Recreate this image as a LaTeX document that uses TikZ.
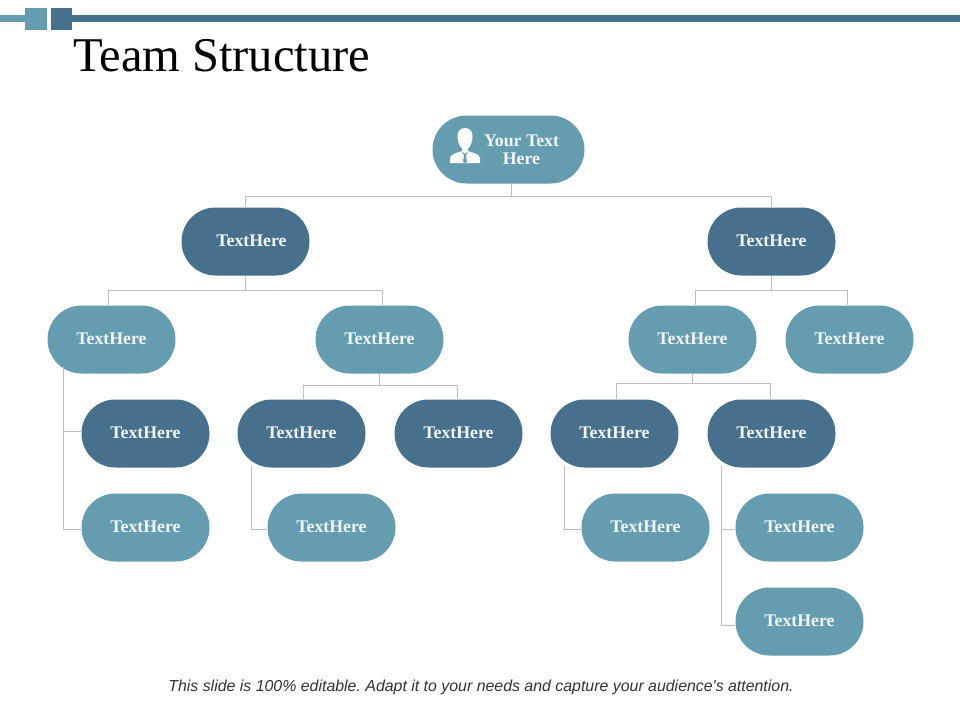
\documentclass[tikz,border=0pt]{standalone}
\usepackage{fontspec}
\setmainfont{Liberation Serif}
\setsansfont{Liberation Sans}
\usetikzlibrary{shapes.misc}
\definecolor{lightblue}{HTML}{659CB0}
\definecolor{darkblue}{HTML}{46708C}
\definecolor{linegray}{HTML}{BFBFBF}
\definecolor{paletext}{HTML}{F0F6F8}
\tikzset{
    pilltext/.style={text=paletext,font=\fontsize{17.8}{18}\selectfont\bfseries},
    pill/.style={rounded rectangle,minimum width=128pt,minimum height=68pt,inner sep=0pt,
        pilltext,text height=13.8pt,text depth=4pt},
    lightpill/.style={pill,fill=lightblue},
    darkpill/.style={pill,fill=darkblue},
    wire/.style={linegray,line width=1pt}
}
\begin{document}
\begin{tikzpicture}[x=1pt,y=-1pt]
    \useasboundingbox (-0.5,-0.5) rectangle (959.5,719.5);
    % Top bar
    \fill[lightblue] (-0.5,14.5) rectangle (24.5,21.5);
    \fill[darkblue] (71.5,14.5) rectangle (959.5,21.5);
    \fill[lightblue] (24.5,7.5) rectangle (46.5,29.5);
    \fill[darkblue] (50.5,7.5) rectangle (71.5,29.5);
    \node[anchor=west,inner sep=0pt,font=\fontsize{48.5}{50}\selectfont] (title) at (72.5,55.5) {Team Structure};
    % Nodes
    \node[lightpill,minimum width=152pt] (root) at (508,149) {};
    \node[inner sep=0pt,pilltext,align=center] (roottext) at (521,149) {Your Text\\Here};
    \node[darkpill] (l) at (245,241) {\hspace*{12pt}TextHere};
    \node[darkpill] (r) at (771,241) {TextHere};
    \node[lightpill] (ll) at (111,339) {TextHere};
    \node[lightpill] (lr) at (379,339) {TextHere};
    \node[lightpill] (rl) at (692,339) {TextHere};
    \node[lightpill] (rr) at (849,339) {TextHere};
    \node[darkpill] (lla) at (145,433) {TextHere};
    \node[lightpill] (llb) at (145,527) {TextHere};
    \node[darkpill] (lra) at (301,433) {TextHere};
    \node[darkpill] (lrb) at (458,433) {TextHere};
    \node[lightpill] (lrc) at (331,527) {TextHere};
    \node[darkpill] (rla) at (614,433) {TextHere};
    \node[darkpill] (rlb) at (771,433) {TextHere};
    \node[lightpill] (rlc) at (645,527) {TextHere};
    \node[lightpill] (rld) at (799,527) {TextHere};
    \node[lightpill] (rle) at (799,621) {TextHere};
    % Person icon
    \fill[white] (464.5,127.5) .. controls (458.5,127.5) and (456.5,132.5) .. (457,137.5)
        .. controls (457.5,142.5) and (459.5,146.5) .. (461.5,148) -- (461.5,150.5)
        .. controls (457.5,152.5) and (450.5,152.5) .. (449.5,157.5) -- (449.5,162.5) -- (479.5,162.5) -- (479.5,157.5)
        .. controls (478.5,152.5) and (471.5,152.5) .. (467.5,150.5) -- (467.5,148)
        .. controls (469.5,146.5) and (471.5,142.5) .. (472,137.5)
        .. controls (472.5,132.5) and (470.5,127.5) .. (464.5,127.5) -- cycle;
    \fill[lightblue] (461,151) -- (464.5,153.5) -- (468,151) -- (466,154) -- (465.5,155.5) -- (466.5,161.5) -- (464.5,162.5)
        -- (462.5,161.5) -- (463.5,155.5) -- (463,154) -- cycle;
    % Edges
    \coordinate (toproot) at (511,196);
    \draw[wire] ([xshift=3pt]root.south) -- (toproot);
    \draw[wire] (l.north) |- (toproot) -| (r.north);
    \coordinate (busl) at (245,290);
    \draw[wire] (l.south) -- (busl);
    \draw[wire] ([xshift=-3pt]ll.north) |- (busl) -| ([xshift=3pt]lr.north);
    \coordinate (busr) at (771,290);
    \draw[wire] (r.south) -- (busr);
    \draw[wire] ([xshift=3pt]rl.north) |- (busr) -| ([xshift=-2pt]rr.north);
    \coordinate (buslr) at (379,385);
    \draw[wire] (lr.south) -- (buslr);
    \draw[wire] ([xshift=2pt]lra.north) |- (buslr) -| ([xshift=-1pt]lrb.north);
    \coordinate (busrl) at (692,383);
    \draw[wire] (rl.south) -- (busrl);
    \draw[wire] ([xshift=2pt]rla.north) |- (busrl) -| ([xshift=-1pt]rlb.north);
    % Side branches
    \coordinate (sidell) at (63,366);
    \draw[wire] (lla.west |- 0,431) -| (sidell);
    \draw[wire] (llb.west |- 0,529) -| (sidell);
    \coordinate (sidelr) at (251,465);
    \draw[wire] (lrc.west |- 0,529) -| (sidelr);
    \coordinate (siderl) at (564,465);
    \draw[wire] (rlc.west |- 0,529) -| (siderl);
    \coordinate (siderr) at (721,465);
    \draw[wire] (rld.west |- 0,529) -| (siderr);
    \draw[wire] (rle.west |- 0,625) -| (siderr);
    % Footer
    \node[inner sep=0pt,font=\sffamily\itshape\fontsize{15.9}{18}\selectfont,text=black!80] (note) at (480.5,687)
        {\frenchspacing This slide is 100\% editable. Adapt it to your needs and capture your audience\textquotesingle s attention.};
\end{tikzpicture}
\end{document}
